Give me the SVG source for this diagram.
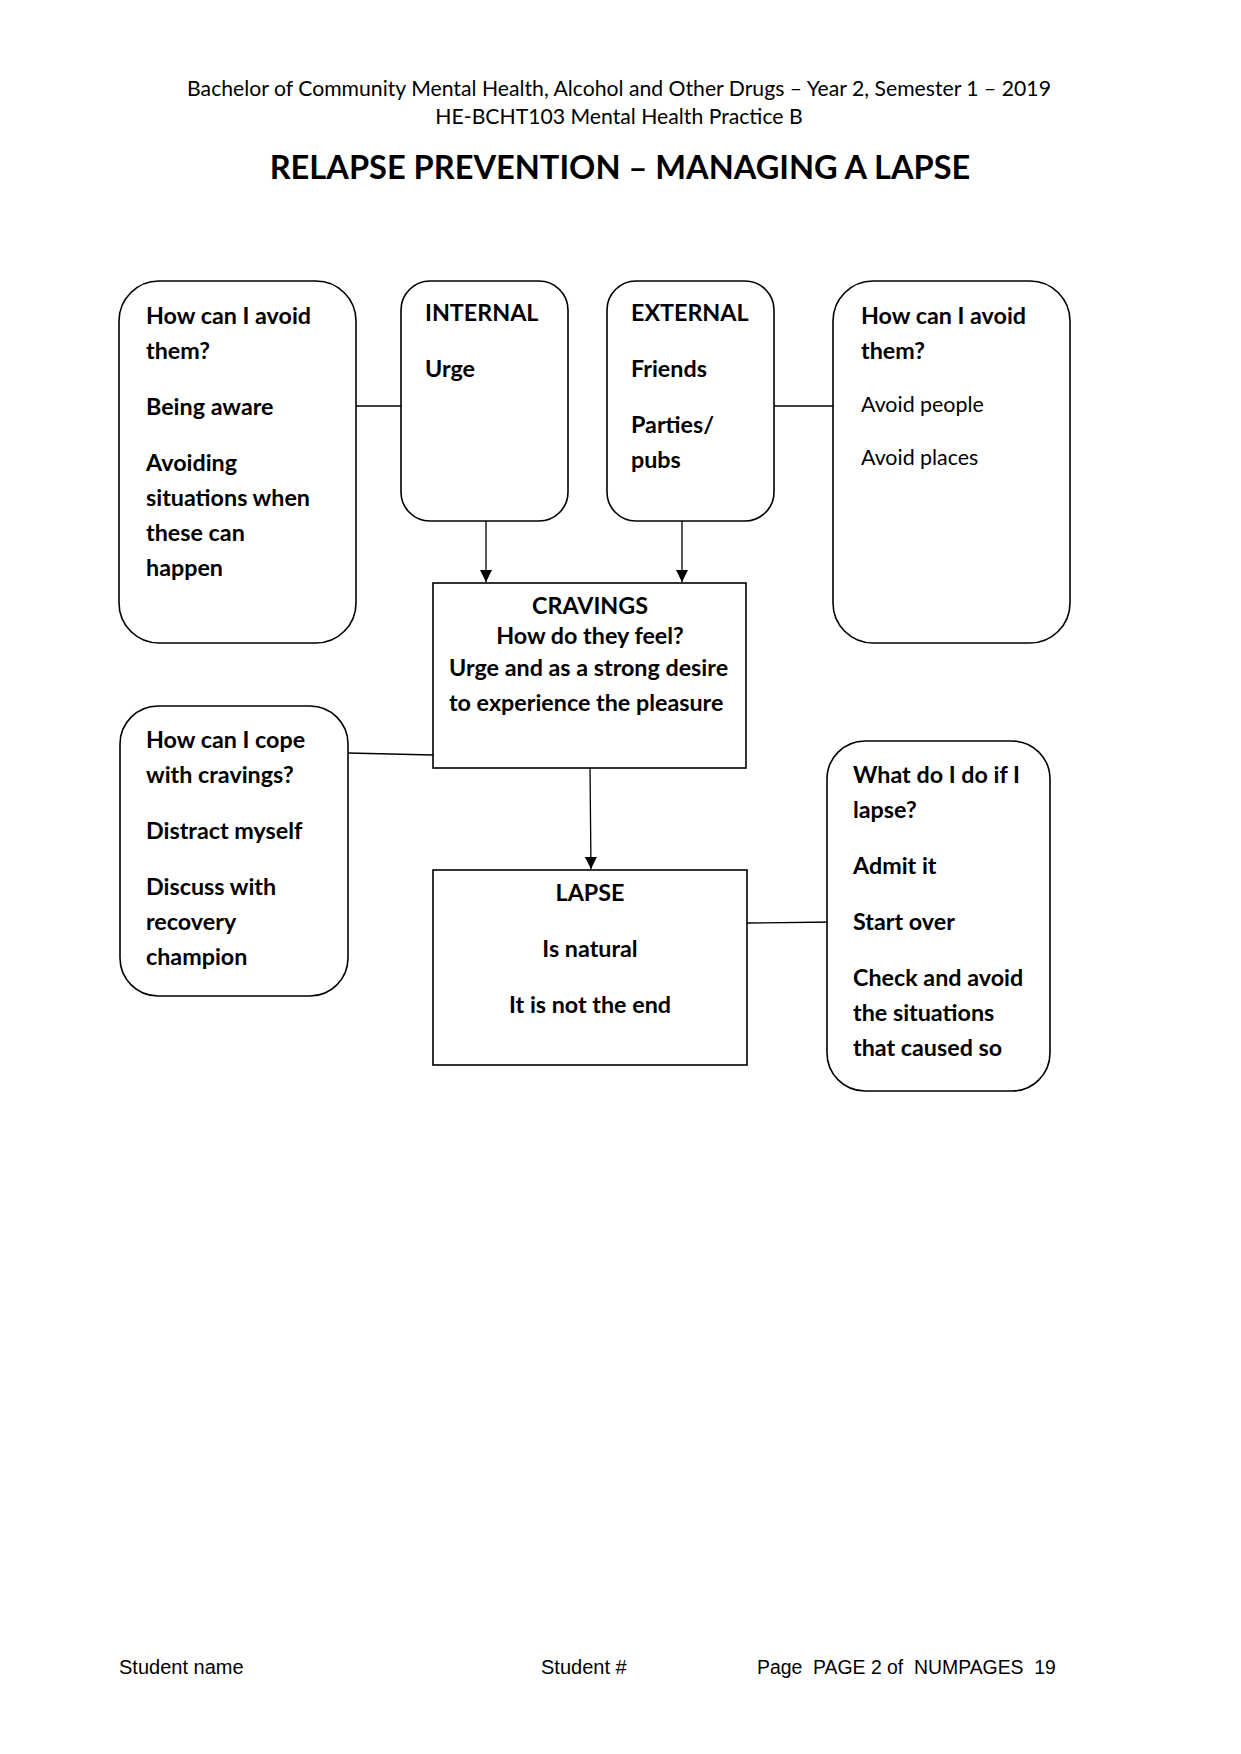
<svg xmlns="http://www.w3.org/2000/svg" width="1241" height="1754" viewBox="0 0 1241 1754">
<style>
.box{fill:#fff;stroke:#000;stroke-width:1.6}
.ln{fill:none;stroke:#000;stroke-width:1.3}
.b{font-family:Lato,"Open Sans","Liberation Sans",sans-serif;font-weight:700;font-size:23.3px;fill:#000}
.r{font-family:Lato,"Open Sans","Liberation Sans",sans-serif;font-weight:400;font-size:21.4px;fill:#000}
.hd{font-family:Lato,"Open Sans","Liberation Sans",sans-serif;font-size:21.2px;fill:#000;text-anchor:middle}
.tt{font-family:Lato,"Open Sans","Liberation Sans",sans-serif;font-weight:700;font-size:32.6px;fill:#000;text-anchor:middle}
.ft{font-family:"Liberation Sans Narrow","Liberation Sans",Arial,sans-serif;font-size:20px;fill:#000;white-space:pre}
.ft2{font-size:19.4px}
.c{text-anchor:middle}
</style>
<defs>
<marker id="ah" markerWidth="12" markerHeight="12" refX="12" refY="6" orient="auto" markerUnits="userSpaceOnUse">
<path d="M0,0 L12,6 L0,12 Z" fill="#000"/>
</marker>
</defs>
<rect width="1241" height="1754" fill="#fff"/>

<g id="header">
<text class="hd" x="619" y="96">Bachelor of Community Mental Health, Alcohol and Other Drugs – Year 2, Semester 1 – 2019</text>
<text class="hd" x="619" y="124">HE-BCHT103 Mental Health Practice B</text>
<text class="tt" x="620" y="179">RELAPSE PREVENTION – MANAGING A LAPSE</text>
</g>

<g id="connectors">
<line class="ln" x1="356" y1="406" x2="401" y2="406"/>
<line class="ln" x1="774" y1="406" x2="833" y2="406"/>
<line class="ln" x1="486" y1="521" x2="486" y2="582" marker-end="url(#ah)"/>
<line class="ln" x1="682" y1="521" x2="682" y2="582" marker-end="url(#ah)"/>
<line class="ln" x1="348" y1="753" x2="433" y2="755"/>
<line class="ln" x1="590" y1="768" x2="591" y2="869" marker-end="url(#ah)"/>
<line class="ln" x1="747" y1="923" x2="835" y2="922"/>
</g>

<g id="avoid-left">
<rect class="box" x="119" y="281" width="237" height="362" rx="40" ry="40"/>
<text class="b" x="146" y="324">How can I avoid</text>
<text class="b" x="146" y="359">them?</text>
<text class="b" x="146" y="415">Being aware</text>
<text class="b" x="146" y="471">Avoiding</text>
<text class="b" x="146" y="506">situations when</text>
<text class="b" x="146" y="541">these can</text>
<text class="b" x="146" y="576">happen</text>
</g>

<g id="internal">
<rect class="box" x="401" y="281" width="167" height="240" rx="29" ry="29"/>
<text class="b" x="425" y="321">INTERNAL</text>
<text class="b" x="425" y="377">Urge</text>
</g>

<g id="external">
<rect class="box" x="607" y="281" width="167" height="240" rx="29" ry="29"/>
<text class="b" x="631" y="321">EXTERNAL</text>
<text class="b" x="631" y="377">Friends</text>
<text class="b" x="631" y="433">Parties/</text>
<text class="b" x="631" y="468">pubs</text>
</g>

<g id="avoid-right">
<rect class="box" x="833" y="281" width="237" height="362" rx="40" ry="40"/>
<text class="b" x="861" y="324">How can I avoid</text>
<text class="b" x="861" y="359">them?</text>
<text class="r" x="861" y="412">Avoid people</text>
<text class="r" x="861" y="465">Avoid places</text>
</g>

<g id="cravings">
<rect class="box" x="433" y="583" width="313" height="185"/>
<text class="b c" x="590" y="614">CRAVINGS</text>
<text class="b c" x="590" y="644">How do they feel?</text>
<text class="b" x="449" y="676">Urge and as a strong desire</text>
<text class="b" x="449" y="711">to experience the pleasure</text>
</g>

<g id="cope">
<rect class="box" x="120" y="706" width="228" height="290" rx="38" ry="38"/>
<text class="b" x="146" y="748">How can I cope</text>
<text class="b" x="146" y="783">with cravings?</text>
<text class="b" x="146" y="839">Distract myself</text>
<text class="b" x="146" y="895">Discuss with</text>
<text class="b" x="146" y="930">recovery</text>
<text class="b" x="146" y="965">champion</text>
</g>

<g id="lapse">
<rect class="box" x="433" y="870" width="314" height="195"/>
<text class="b c" x="590" y="901">LAPSE</text>
<text class="b c" x="590" y="957">Is natural</text>
<text class="b c" x="590" y="1013">It is not the end</text>
</g>

<g id="if-lapse">
<rect class="box" x="827" y="741" width="223" height="350" rx="38" ry="38"/>
<text class="b" x="853" y="783">What do I do if I</text>
<text class="b" x="853" y="818">lapse?</text>
<text class="b" x="853" y="874">Admit it</text>
<text class="b" x="853" y="930">Start over</text>
<text class="b" x="853" y="986">Check and avoid</text>
<text class="b" x="853" y="1021">the situations</text>
<text class="b" x="853" y="1056">that caused so</text>
</g>

<g id="footer">
<text class="ft" x="119" y="1674">Student name</text>
<text class="ft" x="541" y="1674">Student #</text>
<text class="ft ft2" x="757" y="1674" xml:space="preserve">Page  PAGE 2 of  NUMPAGES  19</text>
</g>
</svg>
